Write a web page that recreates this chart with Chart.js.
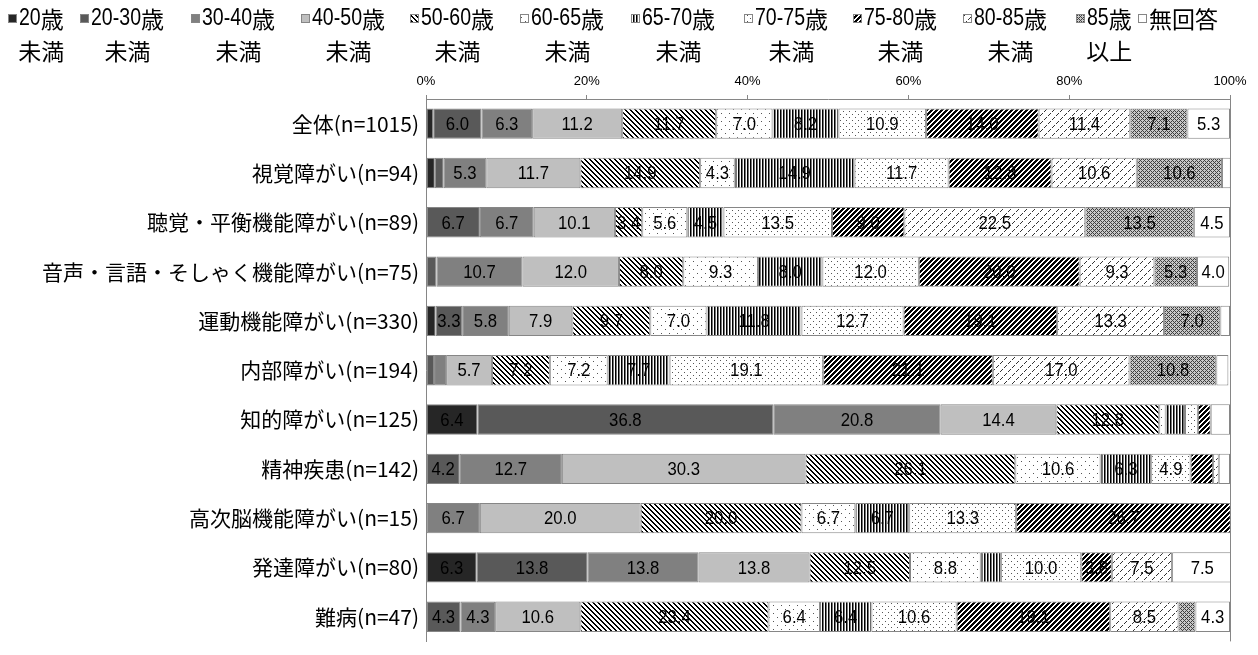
<!DOCTYPE html>
<html><head><meta charset="utf-8">
<script src="https://cdn.jsdelivr.net/npm/chart.js@4/dist/chart.umd.min.js"></script>
<style>html,body{margin:0;padding:0;background:#fff;overflow:hidden;width:1258px;height:655px}canvas{display:block}</style>
</head><body>
<canvas id="c" width="1258" height="661"></canvas>
<script>
const categories = ['全体(n=1015)','視覚障がい(n=94)','聴覚・平衡機能障がい(n=89)','音声・言語・そしゃく機能障がい(n=75)','運動機能障がい(n=330)','内部障がい(n=194)','知的障がい(n=125)','精神疾患(n=142)','高次脳機能障がい(n=15)','発達障がい(n=80)','難病(n=47)'];
const seriesNames = ['20歳未満','20-30歳未満','30-40歳未満','40-50歳未満','50-60歳未満','60-65歳未満','65-70歳未満','70-75歳未満','75-80歳未満','80-85歳未満','85歳以上','無回答'];
const legendLines = [['20歳','未満'],['20-30歳','未満'],['30-40歳','未満'],['40-50歳','未満'],['50-60歳','未満'],['60-65歳','未満'],['65-70歳','未満'],['70-75歳','未満'],['75-80歳','未満'],['80-85歳','未満'],['85歳','以上'],['無回答','']];
const under20  = [0.9, 1.1, 0,    0,    1.2, 0,    6.4,  0,    0,    6.3,  0];
const age20_30 = [6.0, 1.1, 6.7,  1.3,  3.3, 1.0,  36.8, 4.2,  0,    13.8, 4.3];
const age30_40 = [6.3, 5.3, 6.7,  10.7, 5.8, 1.5,  20.8, 12.7, 6.7,  13.8, 4.3];
const age40_50 = [11.2,11.7,10.1, 12.0, 7.9, 5.7,  14.4, 30.3, 20.0, 13.8, 10.6];
const age50_60 = [11.7,14.9,3.4,  8.0,  9.7, 7.2,  12.8, 26.1, 20.0, 12.5, 23.4];
const age60_65 = [7.0, 4.3, 5.6,  9.3,  7.0, 7.2,  0.8,  10.6, 6.7,  8.8,  6.4];
const age65_70 = [8.2, 14.9,4.5,  8.0,  11.8,7.7,  2.4,  6.3,  6.7,  2.5,  6.4];
const age70_75 = [10.9,11.7,13.5, 12.0, 12.7,19.1, 1.6,  4.9,  13.3, 10.0, 10.6];
const age75_80 = [14.0,12.8,9.0,  20.0, 19.1,21.1, 1.6,  2.8,  26.7, 3.8,  19.1];
const age80_85 = [11.4,10.6,22.5, 9.3,  13.3,17.0, 0,    0.7,  0,    7.5,  8.5];
const age85up  = [7.1, 10.6,13.5, 5.3,  7.0, 10.8, 0,    0,    0,    0,    2.1];
const noAnswer = [5.3, 1.1, 4.5,  4.0,  1.2, 1.5,  2.4,  1.4,  0,    7.5,  4.3];
const xTicks = [0,20,40,60,80,100];

const ctx0 = document.getElementById('c').getContext('2d');
function pat(size, fn, bg){
  const c=document.createElement('canvas'); c.width=c.height=size;
  const g=c.getContext('2d'); g.fillStyle=bg||'#fff'; g.fillRect(0,0,size,size);
  for(let y=0;y<size;y++)for(let x=0;x<size;x++){const col=fn(x,y); if(col){g.fillStyle=col; g.fillRect(x,y,1,1);}}
  return ctx0.createPattern(c,'repeat');
}
const fills = [
  '#262626','#595959','#808080','#bfbfbf',
  pat(5,(x,y)=>((x-y+10)%5)<2?'#000':null),
  pat(8,(x,y)=>((x==1&&y==1)||(x==5&&y==5))?'#555':null),
  pat(3,(x,y)=>x==0?'#000':(x==1?'#777':null)),
  pat(6,(x,y)=>((x==0&&y==0)||(x==3&&y==3))?'#555':null),
  pat(5,(x,y)=>((x+y)%5)<3?'#000':null),
  pat(8,(x,y)=>{const d=[[2,1],[1,2],[0,3],[6,5],[5,6],[4,7]];return d.some(p=>p[0]==x&&p[1]==y)?'#333':null;}),
  pat(4,(x,y)=>(((x+y)%4==0)||((x-y+8)%4==0))?'#404040':null,'#c8c8c8'),
  '#ffffff'
];
const allSeries = [under20,age20_30,age30_40,age40_50,age50_60,age60_65,age65_70,age70_75,age75_80,age80_85,age85up,noAnswer];
const BORDER = '#868686';
const datasets = allSeries.map((d,i)=>({label:seriesNames[i],data:d,backgroundColor:fills[i],borderColor:BORDER,borderWidth:1,borderSkipped:false,barPercentage:0.616,categoryPercentage:1}));

const CJK = '"Noto Sans CJK JP",sans-serif';
const LAT = '"Liberation Sans",Arial,sans-serif';
function mixedRuns(text){const r=[];for(const ch of text){const a=/[\x20-\x7e]/.test(ch);if(r.length&&r[r.length-1].a===a)r[r.length-1].t+=ch;else r.push({a,t:ch});}return r;}
function mixedWidth(c,text,size,sx){let w=0;for(const r of mixedRuns(text)){c.font=size+'px '+(r.a?LAT:CJK);w+=c.measureText(r.t).width*(r.a?sx:1);}return w;}
function drawMixed(c,text,x,y,size,sx){
  c.textAlign='left';
  for(const r of mixedRuns(text)){
    c.font=size+'px '+(r.a?LAT:CJK);
    const w=c.measureText(r.t).width*(r.a?sx:1);
    c.save();c.translate(x,y);if(r.a)c.scale(sx,1);c.fillText(r.t,0,0);c.restore();
    x+=w;
  }
}
const legendX = [8,80,191,301,410,520,631,744,853,963,1076,1138];
const legendPlugin = {
  id:'legendCustom',
  afterDraw(chart){
    const c=chart.ctx; c.save();
    c.textBaseline='middle';
    legendLines.forEach((ln,i)=>{
      const sx=legendX[i];
      c.fillStyle=fills[i]; c.fillRect(sx,14,9,9);
      c.strokeStyle=BORDER; c.lineWidth=1; c.strokeRect(sx+0.5,14.5,8,8);
      c.fillStyle='#000';
      const tx=sx+11; const fs=23;
      drawMixed(c,ln[0],tx,19,fs,0.85);
      const w=mixedWidth(c,ln[0],fs,0.85);
      if(ln[1]){const w2=mixedWidth(c,ln[1],fs,0.85);drawMixed(c,ln[1],tx+(w-w2)/2,51,fs,0.85);}
    });
    c.restore();
  }
};
const labelPlugin = {
  id:'segLabels',
  afterDatasetsDraw(chart){
    const c=chart.ctx; c.save();
    c.font='19px '+LAT; c.fillStyle='#000'; c.textAlign='center'; c.textBaseline='middle';
    chart.data.datasets.forEach((ds,i)=>{
      chart.getDatasetMeta(i).data.forEach((bar,j)=>{
        const v=ds.data[j];
        if(v>=3){c.save();c.translate((bar.x+bar.base)/2,bar.y+1);c.scale(0.88,1);c.fillText(v.toFixed(1),0,0);c.restore();}
      });
    });
    c.restore();
  }
};

new Chart(ctx0,{
  type:'bar',
  data:{labels:categories,datasets},
  options:{
    indexAxis:'y',responsive:false,animation:false,events:[],devicePixelRatio:1,
    layout:{padding:{left:0,right:28,top:0,bottom:0}},
    plugins:{legend:{display:false},tooltip:{enabled:false},title:{display:false}},
    scales:{
      x:{position:'top',stacked:true,min:0,max:100,
        afterBuildTicks(s){s.ticks=xTicks.map(v=>({value:v}));},
        afterFit(s){s.height=99;},
        ticks:{callback:v=>v+'%',font:{family:LAT,size:13},color:'#000',padding:6,maxRotation:0,autoSkip:false},
        grid:{color:c=>(c.tick&&c.tick.value===100)?BORDER:'rgba(0,0,0,0)',tickColor:BORDER,tickLength:4,lineWidth:1},
        border:{display:true,color:BORDER}},
      y:{stacked:true,
        afterFit(s){s.width=426;},
        ticks:{font:{family:CJK,size:21},color:'#000',padding:7},
        grid:{display:false,drawTicks:false},
        border:{display:true,color:BORDER}}
    }
  },
  plugins:[legendPlugin,labelPlugin]
});
</script>
</body></html>
